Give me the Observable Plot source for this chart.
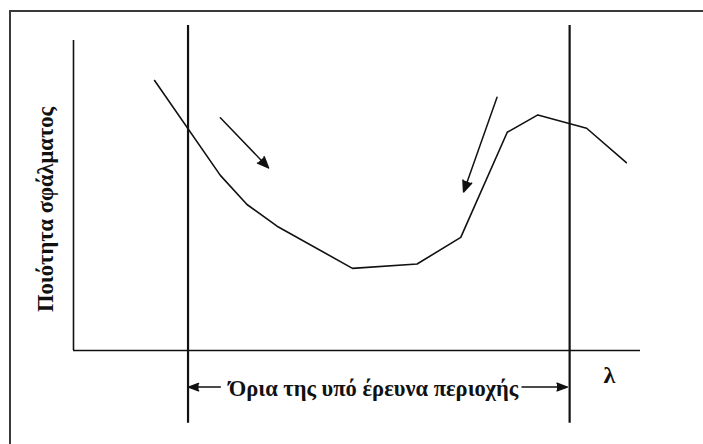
<!DOCTYPE html>
<html>
<head>
<meta charset="utf-8">
<script src="https://cdn.jsdelivr.net/npm/d3@7"></script>
<script src="https://cdn.jsdelivr.net/npm/@observablehq/plot@0.6"></script>
<style>
  html, body { margin: 0; padding: 0; background: #fff; overflow: hidden; }
  #wrap { position: relative; width: 703px; height: 444px; }
  #frame { position: absolute; left: 9px; top: 10px; width: 720px; height: 460px;
           border-left: 2px solid #3a3a3a; border-top: 2px solid #3a3a3a; }
  #wrap svg { position: absolute; left: 0; top: 0; }
</style>
</head>
<body>
<div id="wrap"><div id="frame"></div></div>
<script>
// Error-quality curve against the parameter λ (arbitrary units, 0–100)
const lambda  = [14.3, 25.9, 30.6, 35.9, 49.2, 60.6, 68.3, 76.5, 81.9, 90.5, 97.5];
const quality = [87.1, 56.5, 47.1, 40.1, 26.5, 27.9, 36.5, 70.4, 76.0, 71.7, 60.6];

// Limits of the region under study
const limits = [20.2, 87.5];

// Direction arrows beside the curve: [x1, y1, x2, y2]
const trendArrows = [
  [25.9, 75.1, 34.4, 58.9],
  [74.7, 81.7, 68.8, 51.1]
];

// Dimension arrows below the axis, pointing out to each limit
const spanArrows = [
  [25.9, -11.8, 20.3, -11.8],
  [79.1, -11.8, 87.1, -11.8]
];

const regionLabel = "Όρια της υπό έρευνα περιοχής";
const xLabel = "λ";
const yLabel = "Ποιότητα σφάλματος";

const curve = lambda.map((x, i) => ({x, y: quality[i]}));
const toArrow = a => ({x1: a[0], y1: a[1], x2: a[2], y2: a[3]});

const font = "'Liberation Serif', 'DejaVu Serif', serif";

const chart = Plot.plot({
  width: 703,
  height: 444,
  margin: 0,
  x: {domain: [0, 100], range: [73, 640], axis: null},
  y: {domain: [0, 100], range: [350, 40], axis: null},
  style: {fontFamily: font, background: "transparent"},
  marks: [
    // axes
    Plot.ruleX([0], {y1: 0, y2: 100, stroke: "#111", strokeWidth: 1.6}),
    Plot.ruleY([0], {x1: 0, x2: 100, stroke: "#111", strokeWidth: 1.6}),
    // region limits
    Plot.ruleX(limits, {y1: -23.5, y2: 104.8, stroke: "#111", strokeWidth: 2.2}),
    // curve
    Plot.line(curve, {x: "x", y: "y", stroke: "#111", strokeWidth: 1.6}),
    // trend arrows
    Plot.arrow(trendArrows.map(toArrow), {
      x1: "x1", y1: "y1", x2: "x2", y2: "y2",
      stroke: "#111", fill: "#111", strokeWidth: 1.5,
      headLength: 12, headAngle: 45, strokeLinejoin: "miter"
    }),
    // dimension arrows
    Plot.arrow(spanArrows.map(toArrow), {
      x1: "x1", y1: "y1", x2: "x2", y2: "y2",
      stroke: "#111", fill: "#111", strokeWidth: 1.5,
      headLength: 11, headAngle: 40, strokeLinejoin: "miter"
    }),
    // labels
    Plot.text([regionLabel], {
      x: 52.9, y: -12.5, text: d => d, fontSize: 22.5, fontWeight: "bold",
      fill: "#111", textAnchor: "middle", lineAnchor: "middle"
    }),
    Plot.text([xLabel], {
      x: 94.5, y: -8.1, text: d => d, fontSize: 24, fontWeight: "bold",
      fill: "#111", textAnchor: "middle", lineAnchor: "middle"
    }),
    Plot.text([yLabel], {
      x: -4.8, y: 45.5, text: d => d, fontSize: 22.5, fontWeight: "bold",
      fill: "#111", rotate: -90, textAnchor: "middle", lineAnchor: "middle"
    })
  ]
});

document.getElementById("wrap").appendChild(chart);
</script>
</body>
</html>
